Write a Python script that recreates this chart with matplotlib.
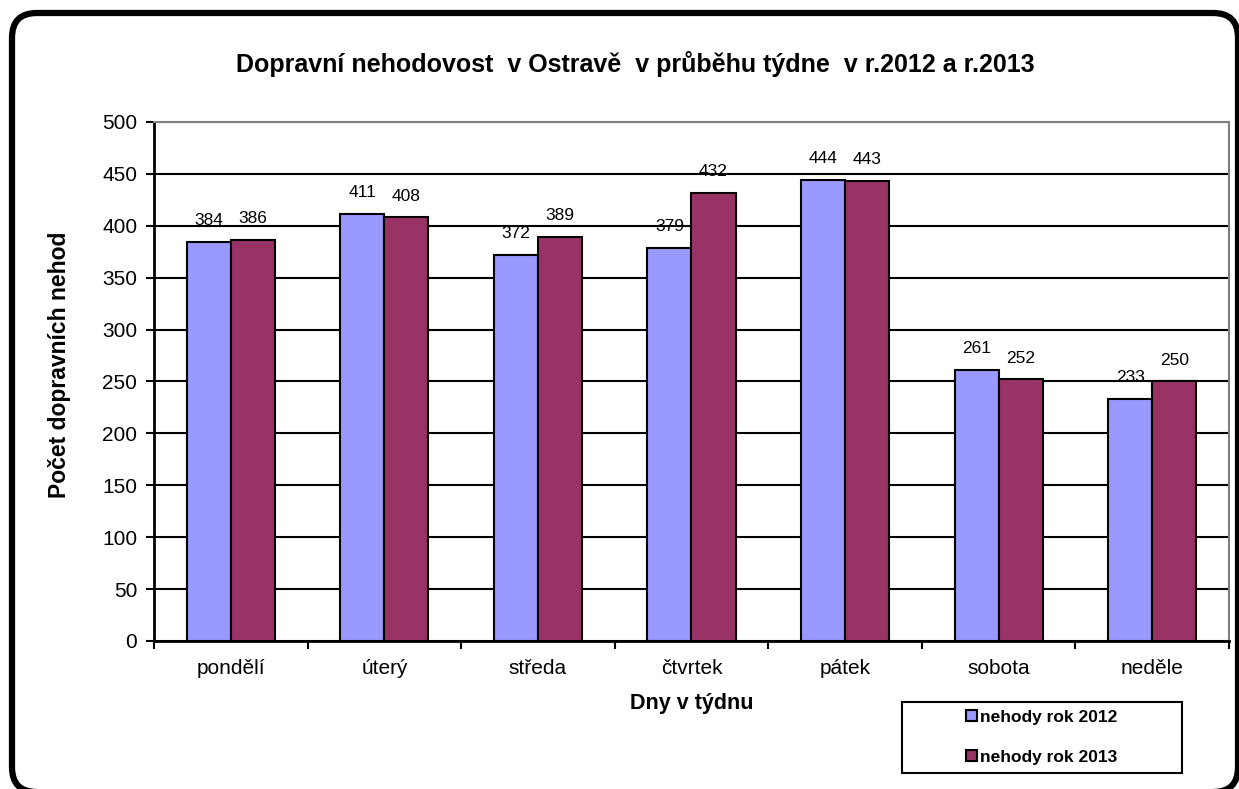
import numpy as np
import matplotlib.pyplot as plt
from matplotlib.patches import FancyBboxPatch, Rectangle

plt.rcParams['font.family'] = ['Liberation Sans', 'DejaVu Sans']

days = ['pondělí', 'úterý', 'středa', 'čtvrtek', 'pátek', 'sobota', 'neděle']
nehody_2012 = [384, 411, 372, 379, 444, 261, 233]
nehody_2013 = [386, 408, 389, 432, 443, 252, 250]

fig = plt.figure(figsize=(12.39, 7.89), dpi=100)
ax = fig.add_axes([0.1243, 0.1876, 0.8676, 0.6578])

x = np.arange(len(days))
w = 0.287
b1 = ax.bar(x - w/2, nehody_2012, w, color='#9999FF', edgecolor='black', linewidth=1.5, label='nehody rok 2012', zorder=3)
b2 = ax.bar(x + w/2, nehody_2013, w, color='#993366', edgecolor='black', linewidth=1.5, label='nehody rok 2013', zorder=3)

for bars in (b1, b2):
    for r in bars:
        ax.annotate(str(int(r.get_height())), (r.get_x() + r.get_width()/2, r.get_height()),
                    xytext=(0, 10), textcoords='offset points', ha='center', va='bottom', fontsize=12.5)

ax.set_ylim(0, 500)
ax.set_xlim(-0.5, len(days) - 0.5)
ax.set_yticks(range(0, 501, 50))
ax.yaxis.grid(True, color='black', linewidth=1.5, zorder=0)
ax.set_axisbelow(True)

ax.set_xticks(x)
ax.set_xticklabels(days, fontsize=15)
ax.set_xticks(np.arange(-0.5, len(days)), minor=True)
ax.tick_params(axis='x', which='major', length=0, pad=13)
ax.tick_params(axis='x', which='minor', length=6, width=1.5, direction='out')
ax.tick_params(axis='y', length=6, width=1.5, labelsize=15, pad=6)

for s in ('left', 'bottom'):
    ax.spines[s].set_linewidth(2)
    ax.spines[s].set_color('black')
for s in ('top', 'right'):
    ax.spines[s].set_linewidth(1.5)
    ax.spines[s].set_color('#808080')

ax.set_xlabel('Dny v týdnu', fontsize=15.5, fontweight='bold', labelpad=11)
ax.set_ylabel('Počet dopravních nehod', fontsize=16.5, fontweight='bold')
ax.yaxis.set_label_coords(-0.077, 0.532)
fig.text(0.5125, 0.919, 'Dopravní nehodovost  v Ostravě  v průběhu týdne  v r.2012 a r.2013',
         ha='center', va='center', fontsize=18, fontweight='bold')

# legend box drawn separately so the entries sit centred in it
lx, ly, lw, lh = 902/1239, 1 - 773/789, 280/1239, 71/789
fig.patches.append(Rectangle((lx, ly), lw, lh, transform=fig.transFigure, fill=False,
                             edgecolor='black', linewidth=1.5))
leg = fig.legend(handles=[b1, b2], loc='center', bbox_to_anchor=(lx + lw/2, ly + lh/2),
                 frameon=False, prop={'size': 12.5, 'weight': 'bold'}, handlelength=0.6,
                 handleheight=0.6, handletextpad=0.2, labelspacing=1.45, borderaxespad=0)

border = FancyBboxPatch((12/1239, -3/789), 1226/1239, 779/789, boxstyle='round,pad=0,rounding_size=0.02',
                        transform=fig.transFigure, fill=False, edgecolor='black', linewidth=4.5,
                        mutation_aspect=1239/789, clip_on=False)
fig.patches.append(border)

fig.savefig('out.png', dpi=100)
